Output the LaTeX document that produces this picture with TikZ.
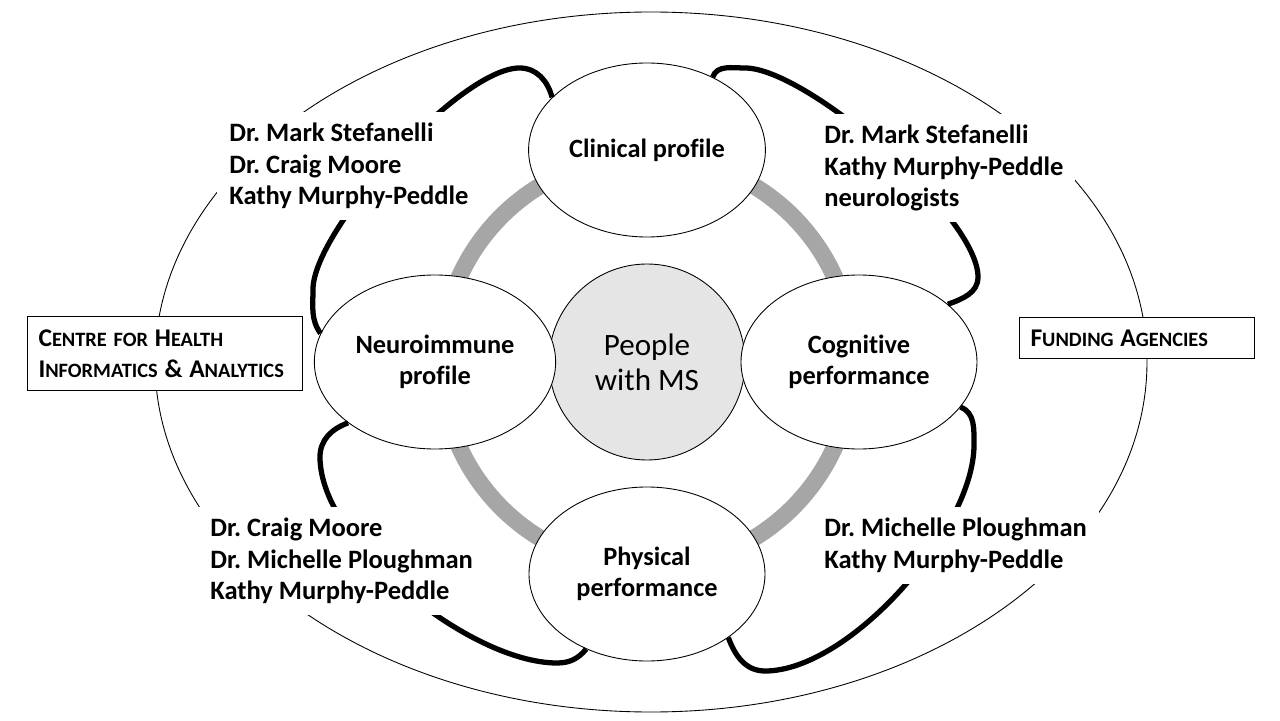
\documentclass[tikz,border=0pt]{standalone}
\usepackage{fontspec}
\setmainfont[Ligatures=NoCommon]{Carlito}
\usetikzlibrary{shapes.geometric}
\frenchspacing
% fake small caps: large initial letters
\newcommand{\capl}[1]{{\fontsize{14.5}{17.6}\selectfont #1}}

\begin{document}
\begin{tikzpicture}[
    topic/.style={ellipse, draw, line width=0.5pt, fill=white, minimum width=4.72cm, minimum height=3.48cm, align=center, font=\fontsize{15}{17.5}\selectfont\bfseries},
    team/.style={fill=white, align=left, inner xsep=0.24cm, inner ysep=0.22cm, anchor=north west, font=\fontsize{15.1}{17.9}\selectfont\bfseries},
    sidebox/.style={draw, line width=0.6pt, fill=white, align=left, inner xsep=0.22cm, anchor=north west, font=\fontsize{11.6}{17.6}\selectfont\bfseries},
    link/.style={line width=3pt},
    ring/.style={line width=0.34cm, black!35}
]
\useasboundingbox (-12.94,-7.16) rectangle (12.66,7.24);
% outer frame and gray ring
\draw[line width=0.5pt] (0.08,0) ellipse [x radius=9.92, y radius=7];
\draw[ring] (0,0) circle (4.12);

% centre and the four profiles
\node[circle, draw, line width=0.5pt, fill=black!10, minimum size=3.92cm, align=center, font=\fontsize{17.7}{20}\selectfont] (ppl) at (0,0) {People\\with MS};
\node[topic] (clin) at (0,4.24) {Clinical profile};
\node[topic] (neuro) at (-4.24,0) {Neuroimmune\\profile};
\node[topic] (cog) at (4.24,0) {Cognitive\\performance};
\node[topic] (phys) at (0,-4.24) {Physical\\performance};

% black arcs between the profiles
\draw[link] (clin.151) to[out=105,in=0] (-2.55,5.88) to[out=180,in=90,looseness=0.5] (-6.68,1.45) to[out=-90,in=125] (neuro.166);
\draw[link] (clin.48) to[out=70,in=180] (1.96,5.88) to[out=0,in=90,looseness=0.5] (6.62,1.7) to[out=-90,in=20] (cog.33);
\draw[link] (cog.-24) to[out=-20,in=90] (6.54,-1.66) to[out=-90,in=0,looseness=0.7] (2.36,-6.18) to[out=180,in=-70] (phys.-38);
\draw[link] (neuro.215) to[out=200,in=90] (-6.54,-1.9) to[out=-90,in=180,looseness=0.7] (-1.8,-6.02) to[out=0,in=-130] (phys.231);

% team names
\node[team] (tlteam) at (-8.6,5.0) {Dr. Mark Stefanelli\\Dr. Craig Moore\\Kathy Murphy-Peddle};
\node[team] (trteam) at (3.3,4.96) {Dr. Mark Stefanelli\\Kathy Murphy-Peddle\\neurologists};
\node[team] (brteam) at (3.3,-2.9) {Dr. Michelle Ploughman\\Kathy Murphy-Peddle};
\node[team] (blteam) at (-8.98,-2.9) {Dr. Craig Moore\\Dr. Michelle Ploughman\\Kathy Murphy-Peddle};

% side boxes
\node[sidebox, text width=5.06cm, minimum height=1.48cm] (chia) at (-12.4,0.92) {\capl{C}ENTRE FOR \capl{H}EALTH\\\capl{I}NFORMATICS \capl{\&} \capl{A}NALYTICS};
\node[sidebox, text width=4.26cm, minimum height=0.82cm] (fund) at (7.44,0.9) {\capl{F}UNDING \capl{A}GENCIES};
\end{tikzpicture}
\end{document}
